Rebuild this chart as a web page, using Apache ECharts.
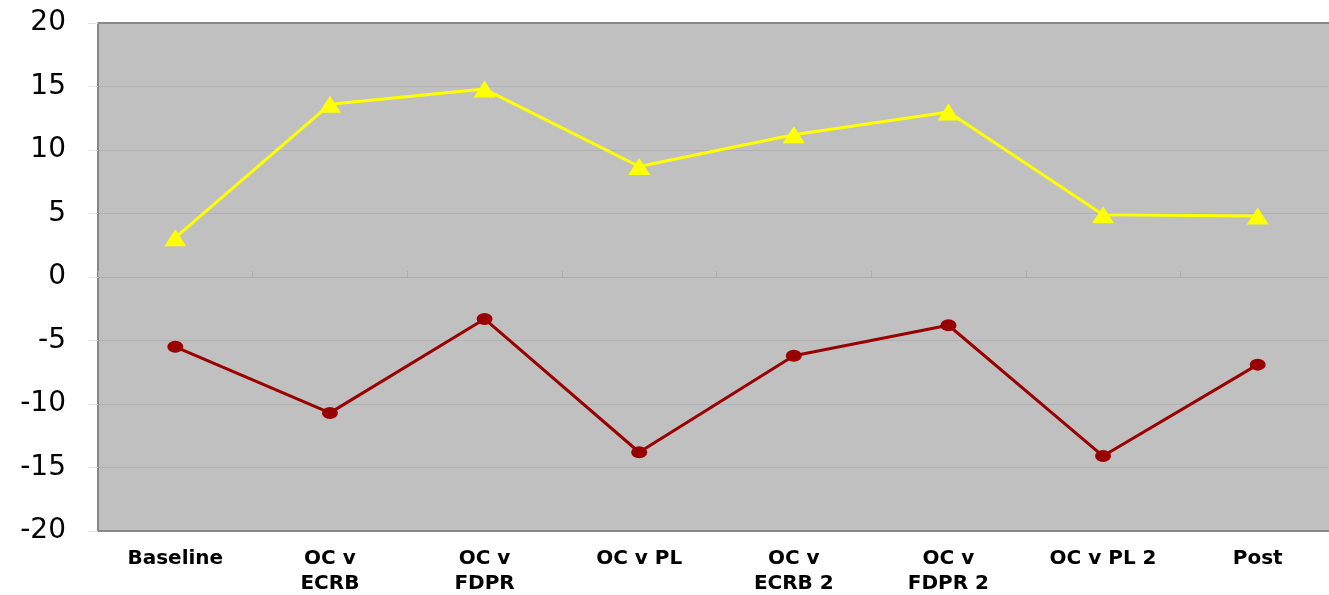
<!DOCTYPE html>
<html>
<head>
<meta charset="utf-8">
<script src="https://cdn.jsdelivr.net/npm/echarts@6/dist/echarts.min.js"></script>
<style>
  html, body { margin: 0; padding: 0; background: #fff; }
  #chart { width: 1329px; height: 595px; }
</style>
</head>
<body>
<div id="chart"></div>
<script>
const categories = ['Baseline', 'OC v\nECRB', 'OC v\nFDPR', 'OC v PL', 'OC v\nECRB 2', 'OC v\nFDPR 2', 'OC v PL 2', 'Post'];
const yellowValues = [3.1, 13.6, 14.8, 8.7, 11.2, 13.0, 4.9, 4.8];
const redValues = [-5.5, -10.7, -3.3, -13.8, -6.2, -3.8, -14.1, -6.9];

const chart = echarts.init(document.getElementById('chart'));
const option = {
    backgroundColor: '#fff',
    animation: false,
    grid: {
        left: 98,
        top: 23,
        bottom: 64,
        width: 1237,
        outerBoundsMode: 'none',
        containLabel: false,
        backgroundColor: '#C0C0C0',
        show: true,
        borderWidth: 0
    },
    xAxis: [{
        type: 'category',
        data: categories,
        boundaryGap: true,
        position: 'bottom',
        axisLine: { onZero: false, lineStyle: { color: '#888', width: 2 } },
        axisTick: { show: false },
        axisLabel: {
            color: '#000',
            fontFamily: 'DejaVu Sans',
            fontWeight: 'bold',
            fontSize: 20,
            lineHeight: 25,
            margin: 15
        }
    }, {
        type: 'category',
        data: categories,
        boundaryGap: true,
        axisLine: { onZero: true, lineStyle: { color: '#ADADAD', width: 1 } },
        axisTick: { show: true, inside: false, length: 6, lineStyle: { color: '#ADADAD' } },
        axisLabel: { show: false }
    }],
    yAxis: {
        type: 'value',
        min: -20,
        max: 20,
        interval: 5,
        axisLine: { show: true, onZero: false, lineStyle: { color: '#888', width: 2 } },
        axisTick: { show: true, length: 10, lineStyle: { color: '#E4E4E4' } },
        splitLine: { lineStyle: { color: '#B2B2B2', width: 1 } },
        axisLabel: {
            color: '#000',
            fontFamily: 'DejaVu Sans',
            fontSize: 28,
            margin: 32
        }
    },
    series: [{
        name: 'top',
        type: 'line',
        data: yellowValues,
        symbol: 'triangle',
        symbolSize: [22, 17],
        lineStyle: { color: '#FFFF00', width: 3 },
        itemStyle: { color: '#FFFF00' }
    }, {
        name: 'bottom',
        type: 'line',
        data: redValues,
        symbol: 'circle',
        symbolSize: [16, 12],
        lineStyle: { color: '#990000', width: 3 },
        itemStyle: { color: '#990000' }
    }, {
        type: 'line',
        data: [],
        markLine: {
            silent: true,
            symbol: 'none',
            label: { show: false },
            lineStyle: { color: '#888', width: 2, type: 'solid' },
            data: [{ yAxis: 20 }]
        }
    }]
};
chart.setOption(option);
window.addEventListener('resize', function() {
    chart.resize();
});
</script>
</body>
</html>
